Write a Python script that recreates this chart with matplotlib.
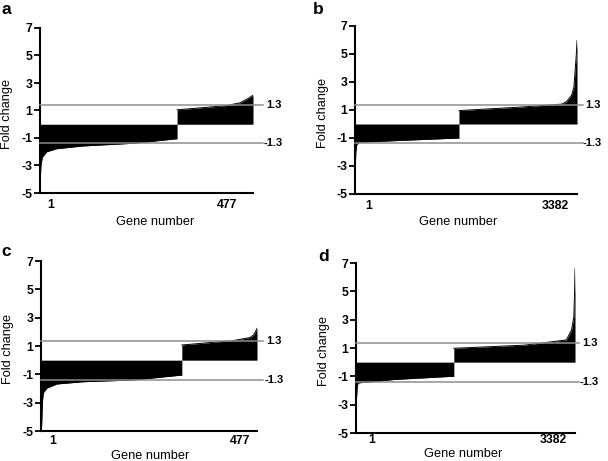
import matplotlib
matplotlib.use("Agg")
import matplotlib.pyplot as plt
import matplotlib.transforms as mtransforms

plt.rcParams['font.family'] = ['Liberation Sans', 'DejaVu Sans']
plt.rcParams['axes.unicode_minus'] = False

# gene counts per panel
n_genes = [477, 3382, 477, 3382]
letters = ['a', 'b', 'c', 'd']
cutoff = 1.3

# sorted fold changes at a few ranks
a_neg_rank = [1, 2, 5, 15, 37, 95, 210, 307]
a_neg_fc = [-3.7, -3.0, -2.4, -2.0, -1.78, -1.58, -1.38, -1.05]
a_pos_rank = [307, 380, 418, 448, 464, 474, 477]
a_pos_fc = [1.05, 1.25, 1.36, 1.56, 1.84, 2.05, 2.1]

b_neg_rank = [1, 5, 12, 25, 60, 800, 1584]
b_neg_fc = [-4.5, -3.0, -2.0, -1.5, -1.3, -1.15, -1.0]
b_pos_rank = [1584, 2500, 3150, 3223, 3300, 3336, 3354, 3372, 3382]
b_pos_fc = [0.96, 1.2, 1.42, 1.6, 2.07, 2.67, 3.86, 5.0, 5.95]

c_neg_rank = [1, 3, 5, 13, 35, 93, 203, 311]
c_neg_fc = [-4.9, -3.0, -2.3, -1.97, -1.68, -1.52, -1.4, -1.05]
c_pos_rank = [311, 424, 462, 470, 475, 477]
c_pos_fc = [1.07, 1.38, 1.6, 1.8, 2.1, 2.25]

d_neg_rank = [1, 8, 20, 40, 600, 1511]
d_neg_fc = [-3.3, -2.5, -1.6, -1.46, -1.22, -0.99]
d_pos_rank = [1511, 2600, 3249, 3329, 3364, 3376, 3382]
d_pos_fc = [0.98, 1.2, 1.57, 2.28, 3.2, 5.0, 6.58]

neg_rank = [a_neg_rank, b_neg_rank, c_neg_rank, d_neg_rank]
neg_fc = [a_neg_fc, b_neg_fc, c_neg_fc, d_neg_fc]
pos_rank = [a_pos_rank, b_pos_rank, c_pos_rank, d_pos_rank]
pos_fc = [a_pos_fc, b_pos_fc, c_pos_fc, d_pos_fc]

W, H = 608, 461
fig = plt.figure(figsize=(W / 100, H / 100), dpi=100)

# pixel boxes: left, right, top(y=7), bottom(y=-5)
boxes = [(40, 253, 28, 193), (355, 577, 26, 194),
         (41, 257, 261, 431), (356, 575, 263, 433)]
# x tick label positions (fraction of axis), gray line end, label x, xlabel pos, tick pad
tickfrac = [(0.05, 0.88), (0.063, 0.90), (0.056, 0.92), (0.07, 0.90)]
line_end = [1.047, 1.026, 1.028, 1.02]
lab_x = [1.062, 1.036, 1.045, 1.032]
xlab_pos = [(0.54, -0.139), (0.464, -0.131), (0.505, -0.112), (0.488, -0.087)]
ylab_x = [-0.127, -0.117, -0.127, -0.117]
xpad = [4.0, 4.0, 3.0, 0.8]
letter_pos = [(1, 2), (313, 2), (1, 244), (318, 249)]
grey = '#8e8e8e'
fs = 8.8

for i in range(4):
    l, r, t, b = boxes[i]
    ax = fig.add_axes([l / W, (H - b) / H, (r - l) / W, (b - t) / H])
    N = n_genes[i]

    ax.fill_between(neg_rank[i], 0, neg_fc[i], color='black', lw=0)
    ax.fill_between(pos_rank[i], 0, pos_fc[i], color='black', lw=0)
    ax.plot(neg_rank[i], neg_fc[i], color='black', lw=0.7)
    ax.plot(pos_rank[i], pos_fc[i], color='black', lw=0.7)

    trans = mtransforms.blended_transform_factory(ax.transAxes, ax.transData)
    for yv in (cutoff + 0.08, -cutoff - 0.08):
        ax.plot([0, line_end[i]], [yv, yv], color=grey, lw=1.1,
                transform=trans, clip_on=False, zorder=5)
    ax.text(lab_x[i], cutoff + 0.08, '1.3', transform=trans, va='center',
            ha='left', fontsize=8, fontweight='bold')
    ax.text(lab_x[i] - 0.012, -cutoff - 0.08, '-1.3', transform=trans,
            va='center', ha='left', fontsize=8, fontweight='bold')

    ax.set_xlim(0, N)
    ax.set_ylim(-5, 7)
    ax.set_yticks([7, 5, 3, 1, -1, -3, -5])
    ax.set_xticks([tickfrac[i][0] * N, tickfrac[i][1] * N])
    ax.set_xticklabels(['1', str(N)])
    ax.tick_params(axis='x', length=0, pad=xpad[i], labelsize=fs)
    ax.tick_params(axis='y', length=4, width=1.3, pad=1.5, labelsize=fs)
    for lab in ax.get_xticklabels() + ax.get_yticklabels():
        lab.set_fontweight('bold')

    for s in ('top', 'right'):
        ax.spines[s].set_visible(False)
    for s in ('left', 'bottom'):
        ax.spines[s].set_linewidth(1.5)

    ax.set_ylabel('Fold change', fontsize=9.2)
    ax.yaxis.set_label_coords(ylab_x[i], 0.48)
    ax.set_xlabel('Gene number', fontsize=9.2)
    ax.xaxis.set_label_coords(*xlab_pos[i])

    lx, ly = letter_pos[i]
    fig.text(lx / W, 1 - ly / H, letters[i], fontsize=12.5, fontweight='bold',
             va='top', ha='left')

fig.savefig('out.png', dpi=100)
